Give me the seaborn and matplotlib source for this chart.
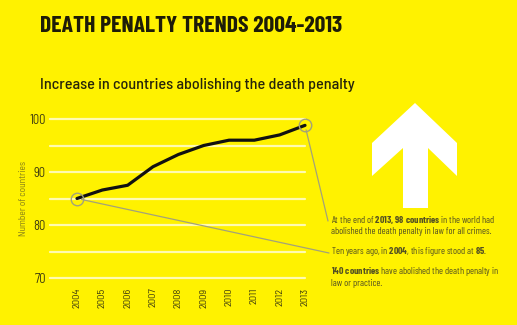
import matplotlib
matplotlib.use("Agg")
import matplotlib.pyplot as plt
from matplotlib.patches import Polygon, ConnectionPatch
import seaborn as sns
import pandas as pd

years = [2004, 2005, 2006, 2007, 2008, 2009, 2010, 2011, 2012, 2013]
countries = [85, 86.6, 87.5, 91, 93.3, 95, 96, 96, 97, 98.8]
ytick_vals = [70, 75, 80, 85, 90, 95, 100]
ytick_labels = ["70", "", "80", "", "90", "", "100"]
title = "DEATH PENALTY TRENDS 2004-2013"
subtitle = "Increase in countries abolishing the death penalty"
ylabel = "Number of countries"

BG = "#fff200"
DARK = "#3c3a10"
TEXT = "#545122"
FONT = ["Barlow Condensed", "DejaVu Sans"]
SEMI = ["Barlow Semi Condensed", "DejaVu Sans"]

sns.set_theme(style="white")
plt.rcParams["font.family"] = FONT
plt.rcParams["mathtext.fontset"] = "custom"
plt.rcParams["mathtext.rm"] = "Barlow Condensed"
plt.rcParams["mathtext.bf"] = "Barlow Condensed:bold"

W, H = 517, 325
fig = plt.figure(figsize=(W / 100, H / 100), dpi=100, facecolor=BG)

x0, x1 = 50, 305
yt, yb = 119, 278
ax = fig.add_axes([x0 / W, 1 - yb / H, (x1 - x0) / W, (yb - yt) / H])
ax.set_facecolor(BG)

df = pd.DataFrame({"year": years, "countries": countries})
left = 2004 - (77 - x0) / (x1 - 77) * 9
ax.set_xlim(left, 2013)
ax.set_ylim(70, 100)

for v in ytick_vals:
    ax.axhline(v, color="#fffbb0", lw=1.6, zorder=1, clip_on=False)

sns.lineplot(data=df, x="year", y="countries", ax=ax, color="#111111",
             lw=2.3, zorder=3, clip_on=False)

# highlight circles
for i in (0, len(years) - 1):
    ax.plot(years[i], countries[i], marker="o", ms=9, mfc="none",
            mec="#a3a27a", mew=1.0, zorder=4, clip_on=False)

for s in ax.spines.values():
    s.set_visible(False)

ax.set_yticks(ytick_vals)
ax.set_yticklabels(ytick_labels, fontsize=9, color=DARK, family=SEMI)
ax.set_xticks(years)
ax.set_xticklabels([str(y) for y in years], rotation=90, fontsize=7.5,
                   color=DARK, family=SEMI)
ax.tick_params(axis="y", length=0, pad=3)
ax.tick_params(axis="x", length=0, pad=7)
ax.set_xlabel("")
ax.set_ylabel(ylabel, fontsize=6.8, color="#857e1a", labelpad=1,
              family=SEMI)

# titles
fig.text(40 / W, 1 - 32 / H, title, fontsize=17, fontweight="bold",
         color="#1e1c08", ha="left", va="baseline")
fig.text(40 / W, 1 - 89 / H, subtitle, fontsize=11.6, fontweight="medium",
         color="#26240a", ha="left", va="baseline", family=SEMI)

# arrow
arrow_px = [(415, 103), (457, 143), (457, 176), (428, 148), (428, 208),
            (403, 208), (403, 148), (372, 176), (372, 143)]
arrow = Polygon([(x / W, 1 - y / H) for x, y in arrow_px], closed=True,
                transform=fig.transFigure, facecolor="white",
                edgecolor="none")
fig.patches.append(arrow)

# annotation texts
tx = 331 / W
fs = 7
fig.text(tx, 1 - 223 / H,
         r"At the end of $\mathbf{2013,98\:countries}$ in the world had",
         fontsize=fs, color=TEXT, va="baseline")
fig.text(tx, 1 - 234 / H,
         "abolished the death penalty in law for all crimes.",
         fontsize=fs, color=TEXT, va="baseline")
fig.text(tx, 1 - 254 / H,
         r"Ten years ago, in $\mathbf{2004}$, this figure stood at $\mathbf{85}$.",
         fontsize=fs, color=TEXT, va="baseline")
fig.text(tx, 1 - 274 / H,
         r"$\mathbf{140\:countries}$ have abolished the death penalty in",
         fontsize=fs, color=TEXT, va="baseline")
fig.text(tx, 1 - 286 / H, "law or practice.",
         fontsize=fs, color=TEXT, va="baseline")

# connector lines
for (xd, yd), (px, py) in [((years[-1], countries[-1]), (328, 221)),
                           ((years[0], countries[0]), (329, 253))]:
    con = ConnectionPatch(xyA=(xd, yd), coordsA=ax.transData,
                          xyB=(px / W, 1 - py / H), coordsB=fig.transFigure,
                          color="#a3a27a", lw=0.9, shrinkA=3.3, shrinkB=0)
    fig.add_artist(con)

fig.savefig("out.png", dpi=100, facecolor=BG)
